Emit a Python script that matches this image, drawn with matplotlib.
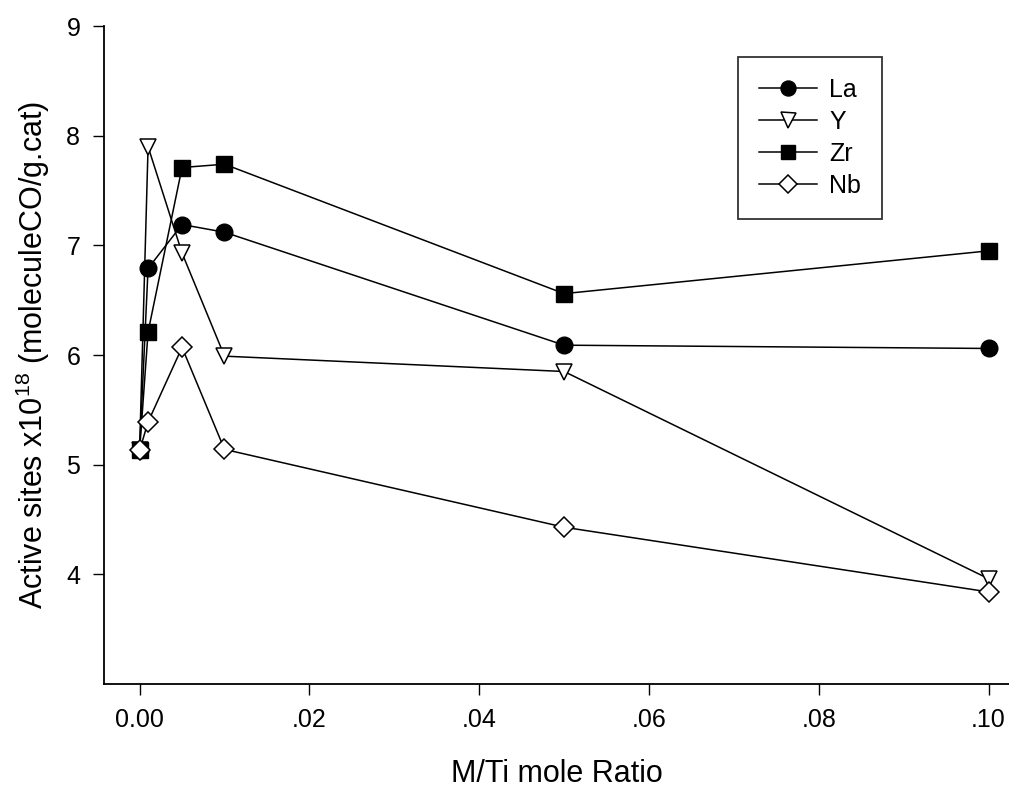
import matplotlib
matplotlib.use("Agg")
import matplotlib.pyplot as plt

plt.rcParams['font.family'] = ['Liberation Sans', 'DejaVu Sans']
plt.rcParams['mathtext.fontset'] = 'custom'
plt.rcParams['mathtext.rm'] = 'Liberation Sans'
plt.rcParams['mathtext.it'] = 'Liberation Sans'

ratio = [0.0, 0.001, 0.005, 0.01, 0.05, 0.10]
la = [5.13, 6.79, 7.19, 7.12, 6.09, 6.06]
yy = [5.13, 7.90, 6.93, 5.99, 5.85, 3.96]
zr = [5.13, 6.21, 7.71, 7.74, 6.56, 6.95]
nb = [5.13, 5.39, 6.07, 5.14, 4.43, 3.84]

xticks = [0.0, 0.02, 0.04, 0.06, 0.08, 0.10]
xtick_labels = ['0.00', '.02', '.04', '.06', '.08', '.10']
yticks = [4, 5, 6, 7, 8, 9]

fig = plt.figure(figsize=(10.09, 7.89), dpi=100)
ax = fig.add_axes([0.103, 0.133, 0.897, 0.834])

lw = 1.1
ax.plot(ratio, la, '-', color='black', lw=lw, marker='o', ms=12, mfc='black', mec='black', label='La')
ax.plot(ratio, yy, '-', color='black', lw=lw, marker='v', ms=12, mfc='white', mec='black', mew=1.1, label='Y')
ax.plot(ratio, zr, '-', color='black', lw=lw, marker='s', ms=11, mfc='black', mec='black', label='Zr')
ax.plot(ratio, nb, '-', color='black', lw=lw, marker='D', ms=10.5, mfc='white', mec='black', mew=1.1, label='Nb')

ax.set_xlim(-0.0042, 0.1024)
ax.set_ylim(3, 9)
ax.set_xticks(xticks)
ax.set_xticklabels(xtick_labels)
ax.set_yticks(yticks)
ax.spines['top'].set_visible(False)
ax.spines['right'].set_visible(False)
ax.spines['left'].set_linewidth(1.3)
ax.spines['bottom'].set_linewidth(1.3)
ax.tick_params(direction='out', length=8, width=1.0, labelsize=18, pad=9)

ax.set_xlabel('M/Ti mole Ratio', fontsize=22, labelpad=20)
ax.set_ylabel(r'Active sites x10$^{18}$ (moleculeCO/g.cat)', fontsize=22, labelpad=10)

leg = ax.legend(loc='upper left', bbox_to_anchor=(0.7006, 0.953), fontsize=18, numpoints=1,
                markerscale=0.9, handlelength=2.3, frameon=True, fancybox=False, edgecolor='black',
                borderpad=0.85, labelspacing=0.32, handletextpad=0.5, borderaxespad=0)
leg.get_frame().set_linewidth(1.3)

fig.savefig('out.png', dpi=100)
